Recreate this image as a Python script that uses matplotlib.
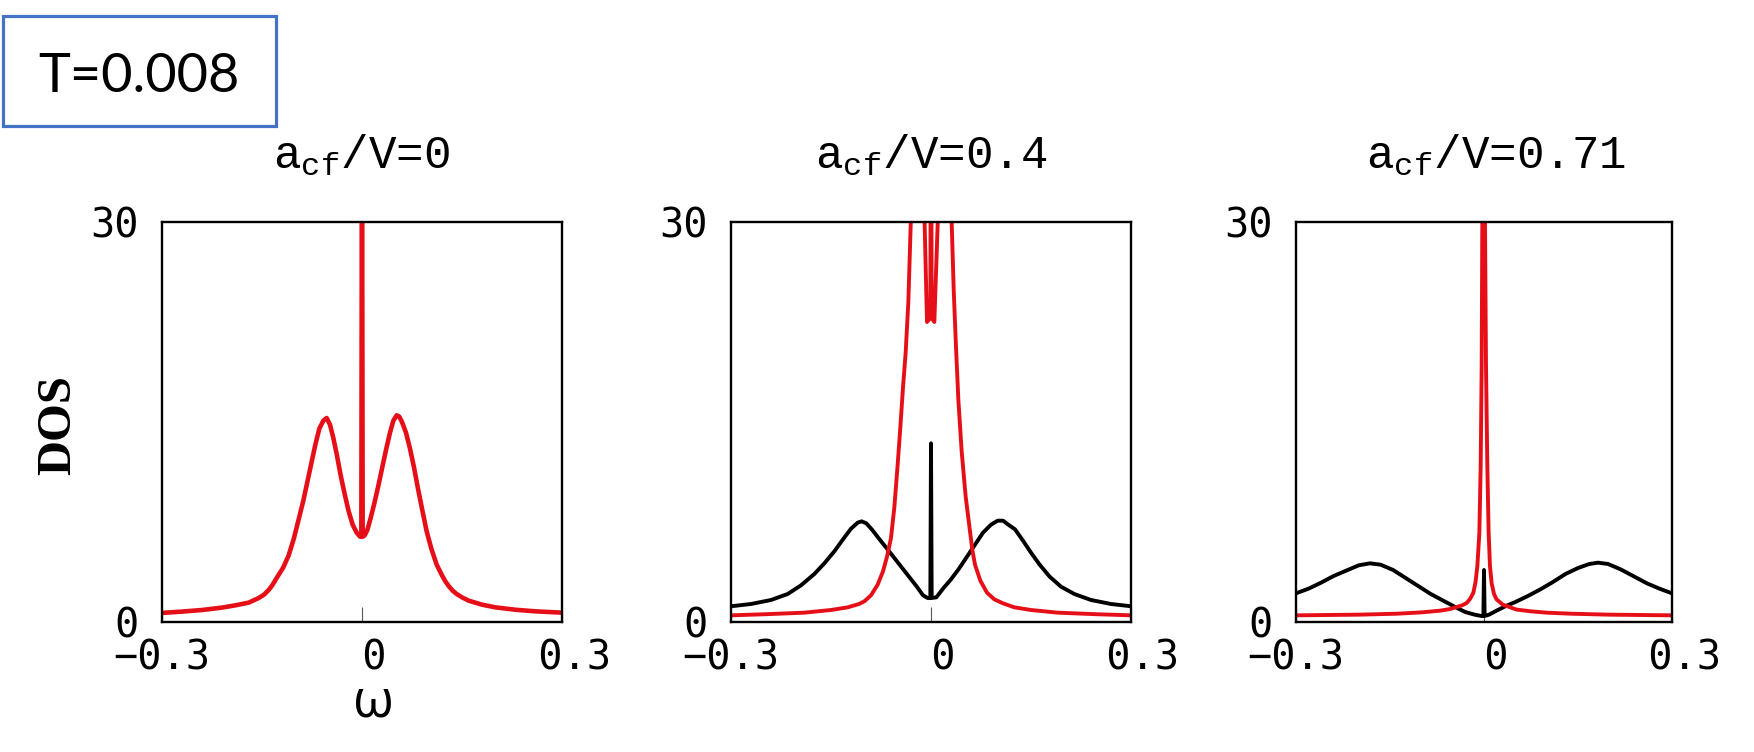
import matplotlib
matplotlib.use("Agg")
import matplotlib.pyplot as plt
from matplotlib.patches import Rectangle

plt.rcParams["mathtext.fontset"] = "custom"
plt.rcParams["mathtext.rm"] = "Liberation Mono"
plt.rcParams["mathtext.it"] = "Liberation Mono"

W, H = 1754, 752

titles = ["a$_{\\mathrm{cf}}$/V=0", "a$_{\\mathrm{cf}}$/V=0.4", "a$_{\\mathrm{cf}}$/V=0.71"]
xticks = [-0.3, 0, 0.3]
xticklabels = ["\u22120.3", " 0", " 0.3"]
yticks = [0, 30]
yticklabels = ["0", "30"]

# panel 1: a_cf/V = 0 (red only)
w1_red = [-0.300, -0.270, -0.240, -0.210, -0.190, -0.170, -0.155, -0.147, -0.140, -0.134,
          -0.128, -0.123, -0.118, -0.114, -0.110, -0.102, -0.095, -0.088, -0.082, -0.076,
          -0.070, -0.064, -0.058, -0.053, -0.048, -0.043, -0.038, -0.032, -0.026, -0.020,
          -0.014, -0.008, -0.003, -0.001, 0.000, 0.001, 0.004, 0.008, 0.013, 0.018,
          0.024, 0.030, 0.036, 0.042, 0.047, 0.052, 0.056, 0.060, 0.066, 0.072,
          0.078, 0.084, 0.090, 0.097, 0.104, 0.112, 0.116, 0.120, 0.125, 0.130,
          0.136, 0.142, 0.150, 0.160, 0.180, 0.200, 0.230, 0.260, 0.300]
d1_red = [0.68, 0.78, 0.90, 1.08, 1.25, 1.45, 1.80, 2.05, 2.40, 2.80,
          3.30, 3.70, 4.10, 4.55, 5.00, 6.30, 7.70, 9.10, 10.5, 11.9,
          13.3, 14.5, 15.1, 15.3, 14.8, 13.8, 12.6, 11.0, 9.6, 8.3,
          7.3, 6.7, 6.4, 6.4, 40.0, 6.4, 6.5, 6.9, 7.8, 8.8,
          10.1, 11.5, 12.9, 14.2, 15.1, 15.5, 15.4, 15.0, 14.2, 13.0,
          11.6, 10.0, 8.5, 6.8, 5.5, 4.3, 3.9, 3.5, 3.05, 2.7,
          2.35, 2.1, 1.85, 1.6, 1.30, 1.10, 0.92, 0.80, 0.70]

# panel 2: a_cf/V = 0.4
w2_black = [-0.300, -0.270, -0.240, -0.215, -0.195, -0.175, -0.160, -0.145, -0.132, -0.120,
            -0.110, -0.104, -0.097, -0.088, -0.078, -0.066, -0.055, -0.044, -0.033, -0.022,
            -0.012, -0.005, -0.001, 0.000, 0.001, 0.008, 0.018, 0.030, 0.042, 0.054,
            0.066, 0.078, 0.090, 0.100, 0.108, 0.116, 0.126, 0.138, 0.150, 0.163,
            0.178, 0.195, 0.215, 0.240, 0.270, 0.300]
d2_black = [1.18, 1.35, 1.65, 2.10, 2.75, 3.60, 4.40, 5.30, 6.20, 7.00,
            7.45, 7.55, 7.40, 6.90, 6.25, 5.50, 4.80, 4.10, 3.40, 2.70,
            2.00, 1.80, 1.80, 13.4, 1.80, 1.85, 2.50, 3.20, 4.00, 4.90,
            5.80, 6.70, 7.30, 7.60, 7.60, 7.30, 6.95, 6.10, 5.20, 4.30,
            3.40, 2.65, 2.10, 1.65, 1.35, 1.18]
w2_red = [-0.300, -0.250, -0.190, -0.150, -0.125, -0.108, -0.100, -0.090, -0.080, -0.072,
          -0.066, -0.060, -0.055, -0.050, -0.046, -0.042, -0.038, -0.034, -0.030, -0.025,
          -0.018, -0.012, -0.006, -0.001, 0.000, 0.001, 0.005, 0.0135, 0.020, 0.025,
          0.031, 0.034, 0.037, 0.041, 0.046, 0.052, 0.058, 0.062, 0.066, 0.074,
          0.084, 0.095, 0.108, 0.125, 0.150, 0.190, 0.250, 0.300]
d2_red = [0.50, 0.58, 0.70, 0.90, 1.10, 1.35, 1.55, 2.00, 2.80, 3.80,
          4.90, 6.30, 8.60, 11.8, 14.6, 17.6, 20.2, 24.0, 30.5, 40.0,
          45.0, 35.0, 22.5, 22.8, 45.0, 22.8, 22.5, 35.0, 45.0, 40.0,
          30.0, 25.0, 21.2, 16.7, 12.8, 9.4, 7.0, 5.4, 4.3, 3.1,
          2.2, 1.7, 1.4, 1.1, 0.90, 0.70, 0.58, 0.50]

# panel 3: a_cf/V = 0.71
w3_black = [-0.300, -0.280, -0.260, -0.240, -0.220, -0.200, -0.182, -0.165, -0.145, -0.125,
            -0.105, -0.085, -0.065, -0.045, -0.030, -0.015, -0.004, -0.001, 0.000, 0.001,
            0.008, 0.020, 0.035, 0.050, 0.070, 0.090, 0.110, 0.130, 0.150, 0.168,
            0.182, 0.198, 0.218, 0.240, 0.260, 0.280, 0.300]
d3_black = [2.15, 2.50, 2.95, 3.45, 3.85, 4.25, 4.40, 4.30, 3.90, 3.30,
            2.70, 2.10, 1.60, 1.10, 0.75, 0.55, 0.45, 0.45, 3.90, 0.45,
            0.55, 0.85, 1.20, 1.50, 1.95, 2.45, 3.00, 3.60, 4.05, 4.35,
            4.45, 4.35, 3.95, 3.40, 2.90, 2.50, 2.15]
w3_red = [-0.300, -0.200, -0.140, -0.100, -0.070, -0.054, -0.035, -0.0276, -0.022, -0.017,
          -0.0135, -0.0106, -0.0074, -0.0053, -0.0037, -0.0027, -0.001, 0.0016, 0.0032, 0.0053,
          0.0074, 0.0095, 0.0122, 0.016, 0.020, 0.030, 0.052, 0.075, 0.100, 0.140,
          0.200, 0.300]
d3_red = [0.50, 0.55, 0.62, 0.72, 0.85, 0.975, 1.25, 1.425, 1.75, 2.20,
          3.00, 4.20, 6.70, 11.7, 19.2, 30.0, 60.0, 30.0, 19.2, 11.7,
          6.70, 4.20, 2.90, 2.10, 1.70, 1.30, 0.93, 0.80, 0.70, 0.62,
          0.55, 0.50]

red = "#e60f18"
panels = [
    dict(box=(162, 400), lw=3.3, black=None, red=(w1_red, d1_red)),
    dict(box=(731, 400), lw=2.8, black=(w2_black, d2_black), red=(w2_red, d2_red)),
    dict(box=(1296, 376), lw=2.8, black=(w3_black, d3_black), red=(w3_red, d3_red)),
]

fig = plt.figure(figsize=(W / 100, H / 100), dpi=100)

for i, p in enumerate(panels):
    left, width = p["box"]
    ax = fig.add_axes([left / W, (H - 622) / H, width / W, 400 / H])
    if p["black"] is not None:
        ax.plot(p["black"][0], p["black"][1], color="black", lw=p["lw"], zorder=2)
    ax.plot(p["red"][0], p["red"][1], color=red, lw=p["lw"], zorder=3)
    ax.set_xlim(-0.3, 0.3)
    ax.set_ylim(0, 30)
    ax.set_xticks(xticks)
    ax.set_xticklabels(xticklabels, family="DejaVu Sans Mono", fontsize=29)
    ax.set_yticks(yticks)
    ax.set_yticklabels(yticklabels, family="DejaVu Sans Mono", fontsize=29)
    ax.tick_params(axis="x", direction="in", length=11, width=0.8, color="#555555", pad=12)
    ax.tick_params(axis="y", length=0, pad=17)
    for s in ax.spines.values():
        s.set_linewidth(1.7)
        s.set_zorder(5)
    # titles centred as if every frame were 400 px wide
    ax.text(200 / width, 1.1325, titles[i], transform=ax.transAxes, ha="center",
            va="baseline", family="Liberation Mono", fontsize=33)
    if i == 0:
        ax.set_ylabel("DOS", family="Liberation Serif", fontweight="bold",
                      fontsize=35)
        ax.yaxis.set_label_coords((80 - left) / width, (622 - 425) / 400)
        ax.text((373 - left) / width, -(703 - 622) / 400, "\u03c9",
                transform=ax.transAxes, ha="center", va="center",
                family=["Open Sans", "DejaVu Sans"], fontsize=38)

# T=0.008 box in the top left
fig.patches.append(Rectangle((3 / W, (H - 126) / H), 273 / W, 110 / H,
                             transform=fig.transFigure, fill=False,
                             edgecolor="#4472c4", lw=2.3))
fig.text(139 / W, (H - 92) / H, "T=0.008", ha="center", va="baseline",
         family=["Lato", "DejaVu Sans"], fontsize=39)

fig.savefig("out.png", dpi=100)
